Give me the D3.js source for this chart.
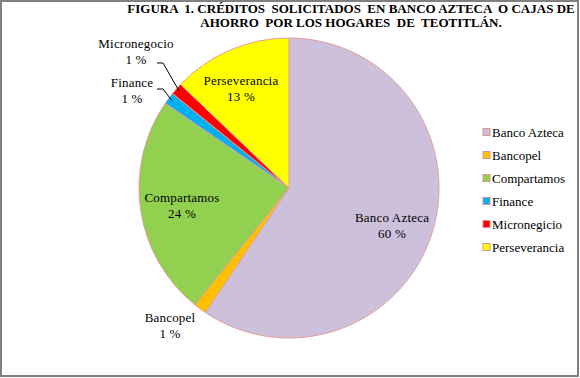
<!DOCTYPE html>
<html>
<head>
<meta charset="utf-8">
<script src="https://cdn.jsdelivr.net/npm/d3@7"></script>
<style>
  body { margin: 0; background: #fff; }
</style>
</head>
<body>
<svg id="chart" width="580" height="378"></svg>
<script>
// datos del gráfico
var categories = ["Banco Azteca", "Bancopel", "Compartamos", "Finance", "Micronegocio", "Perseverancia"];
var legendNames = ["Banco Azteca", "Bancopel", "Compartamos", "Finance", "Micronegicio", "Perseverancia"];
var values = [60, 1.4, 24, 1.3, 1.3, 13];
var percentLabels = ["60 %", "1 %", "24 %", "1 %", "1 %", "13 %"];
var colors = ["#ccc0da", "#ffc000", "#92d050", "#00b0f0", "#ff0000", "#ffff00"];
var titleLines = ["FIGURA  1. CRÉDITOS  SOLICITADOS  EN BANCO AZTECA  O CAJAS DE", "AHORRO  POR LOS HOGARES  DE  TEOTITLÁN."];

var FONT = "'Liberation Serif', 'Times New Roman', Times, serif";

var svg = d3.select("#chart");
var cx = 289, cy = 188, r = 150;

// marco
svg.append("rect")
    .attr("x", 1).attr("y", 1)
    .attr("width", 577).attr("height", 375)
    .attr("fill", "#fff")
    .attr("stroke", "#808080")
    .attr("stroke-width", 2);

// título
svg.selectAll("text.title")
    .data(titleLines)
    .enter()
    .append("text")
    .attr("class", "title")
    .attr("x", 351)
    .attr("y", function(d, i) { return 13 + i * 14; })
    .attr("text-anchor", "middle")
    .attr("font-family", FONT)
    .attr("font-size", 13)
    .attr("font-weight", "bold")
    .style("white-space", "pre")
    .text(function(d) { return d; });

var pie = d3.pie().sort(null).value(function(d) { return d; });
var arcs = pie(values);
var arc = d3.arc().innerRadius(0).outerRadius(r);

var g = svg.append("g").attr("transform", "translate(" + cx + "," + cy + ")");

g.selectAll("path")
    .data(arcs)
    .enter()
    .append("path")
    .attr("d", arc)
    .attr("fill", function(d, i) { return colors[i]; })
    .attr("stroke", "#e0a0a0")
    .attr("stroke-width", 1);

// etiquetas
var labelPos = [
    {x: 392, y: 222},   // Banco Azteca
    {x: 170, y: 322},   // Bancopel
    {x: 182, y: 202},   // Compartamos
    {x: 132, y: 87},    // Finance
    {x: 136, y: 48},    // Micronegocio
    {x: 241, y: 85}     // Perseverancia
];

var labels = svg.append("g");
arcs.forEach(function(d, i) {
    var t = labels.append("text")
        .attr("text-anchor", "middle")
        .attr("font-family", FONT)
        .attr("font-size", 13)
        .attr("letter-spacing", 0.2)
        .style("white-space", "pre");
    t.append("tspan").attr("x", labelPos[i].x).attr("y", labelPos[i].y).text(categories[i]);
    t.append("tspan").attr("x", labelPos[i].x).attr("y", labelPos[i].y + 16).text(percentLabels[i]);
});

// líneas guía para Finance y Micronegocio
var outer = d3.arc().innerRadius(r - 4).outerRadius(r - 4);
[{i: 3, sx: 157, sy: 89}, {i: 4, sx: 157, sy: 63}].forEach(function(o) {
    var p = outer.centroid(arcs[o.i]);
    svg.append("polyline")
        .attr("points", [[o.sx, o.sy], [o.sx + 6, o.sy], [cx + p[0], cy + p[1]]].join(" "))
        .attr("fill", "none")
        .attr("stroke", "#000")
        .attr("stroke-width", 1);
});

// leyenda
var legend = svg.append("g").attr("transform", "translate(483,132)");
var item = legend.selectAll("g")
    .data(legendNames)
    .enter()
    .append("g")
    .attr("transform", function(d, i) { return "translate(0," + i * 23 + ")"; });
item.append("rect")
    .attr("x", 0).attr("y", -3.5)
    .attr("width", 7).attr("height", 7)
    .attr("fill", function(d, i) { return colors[i]; })
    .attr("stroke", "#d99594")
    .attr("stroke-width", 1);
item.append("text")
    .attr("x", 9)
    .attr("y", 4.5)
    .attr("font-family", FONT)
    .attr("font-size", 13)
    .text(function(d) { return d; });
</script>
</body>
</html>
